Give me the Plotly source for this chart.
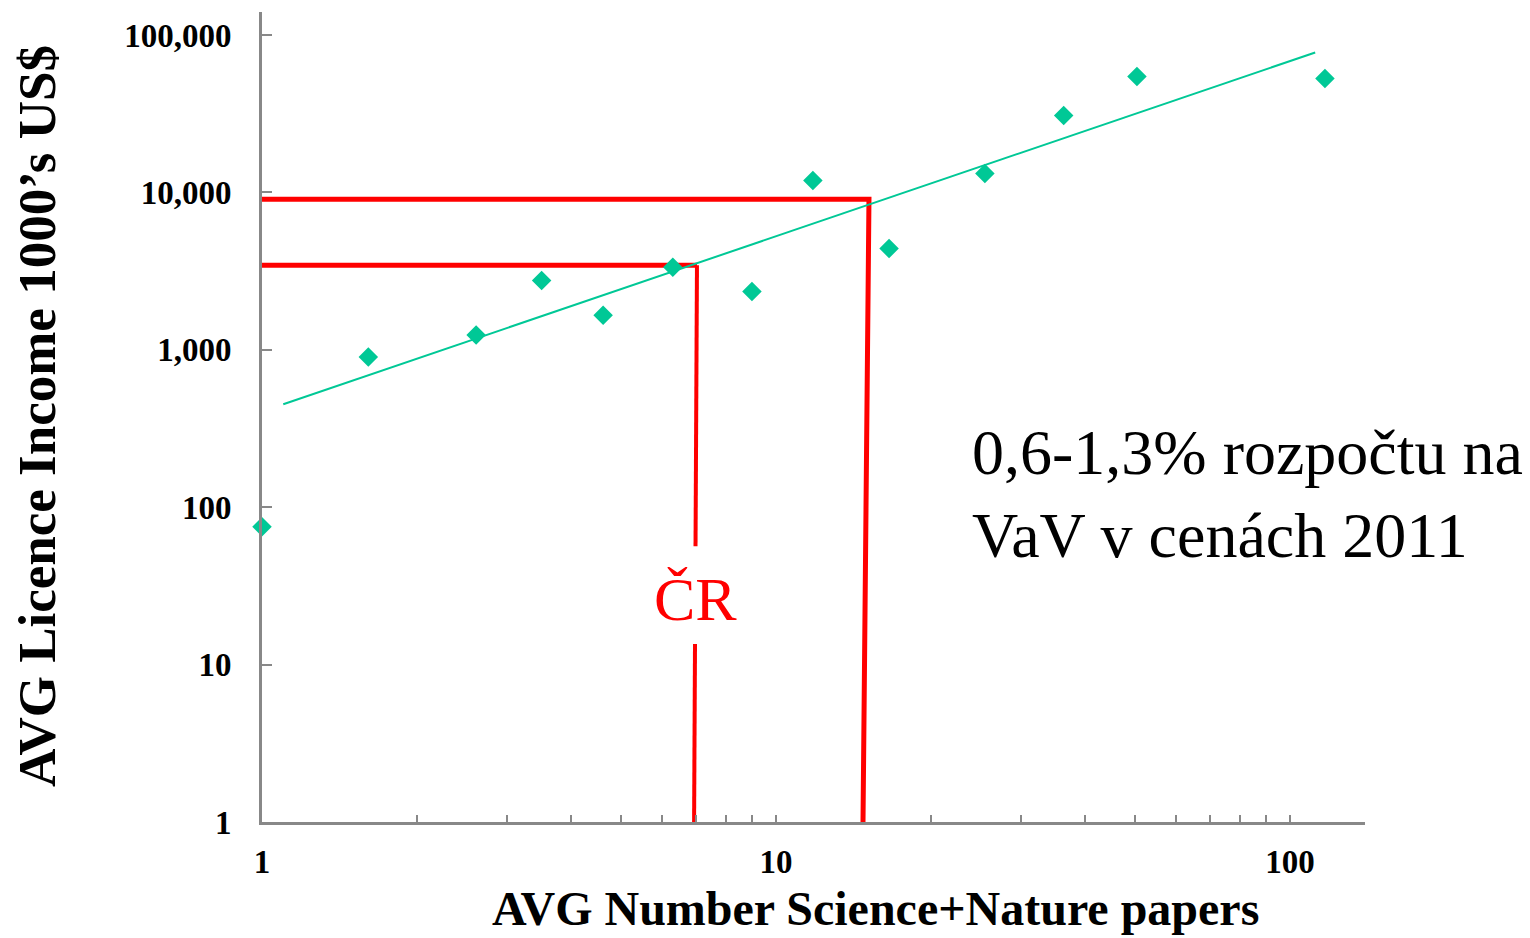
import plotly.graph_objects as go
import numpy as np

# Data
papers = [1.0, 1.61, 2.61, 3.50, 4.61, 6.30, 8.98, 11.8, 16.6, 25.5, 36.3, 50.4, 117]
income = [75, 900, 1240, 2760, 1660, 3340, 2350, 11900, 4400, 13200, 30800, 54500, 53000]

trend_x = [1.10, 112]
trend_y = [451, 77400]

# Reference (red) guide lines
upper_x = [1.0, 15.17, 14.77]
upper_y = [9030, 9030, 1]
lower_x = [1.0, 7.02, 6.93]
lower_y = [3440, 3440, 1]
lower_gap = [56.5, 13.5]   # y-values where the ČR label interrupts the line

xtick_vals = [1, 2, 3, 4, 5, 6, 7, 8, 9, 10, 20, 30, 40, 50, 60, 70, 80, 90, 100, 140]
xtick_text = ["1"] + [""] * 8 + ["10"] + [""] * 8 + ["100", ""]
ytick_vals = [1, 10, 100, 1000, 10000, 100000]
ytick_text = ["1", "10", "100", "1,000", "10,000", "100,000"]

GREEN = "#00C896"
RED = "#FF0000"
GREY = "#888888"
SERIF = "Liberation Serif, Times New Roman, serif"

fig = go.Figure()

# red guide lines
fig.add_trace(go.Scatter(x=upper_x, y=upper_y, mode="lines",
                         line=dict(color=RED, width=5), hoverinfo="skip", showlegend=False))
fig.add_trace(go.Scatter(x=lower_x[:2], y=lower_y[:2], mode="lines",
                         line=dict(color=RED, width=5), hoverinfo="skip", showlegend=False))
# vertical part of lower guide, split around the label
lx_top = lower_x[1]
lx_bot = lower_x[2]
def interp_x(yv):
    t = (np.log10(lower_y[1]) - np.log10(yv)) / (np.log10(lower_y[1]) - np.log10(lower_y[2]))
    return 10 ** (np.log10(lx_top) + t * (np.log10(lx_bot) - np.log10(lx_top)))
fig.add_trace(go.Scatter(x=[lx_top, interp_x(lower_gap[0]), None, interp_x(lower_gap[1]), lx_bot],
                         y=[lower_y[1], lower_gap[0], None, lower_gap[1], lower_y[2]],
                         mode="lines", line=dict(color=RED, width=4),
                         hoverinfo="skip", showlegend=False))

# trend line
fig.add_trace(go.Scatter(x=trend_x, y=trend_y, mode="lines",
                         line=dict(color=GREEN, width=2), showlegend=False))
# data points
fig.add_trace(go.Scatter(x=papers, y=income, mode="markers",
                         marker=dict(symbol="diamond", size=15, color=GREEN, line=dict(width=0)),
                         cliponaxis=False, showlegend=False))

fig.update_xaxes(type="log", range=[0, np.log10(140)],
                 tickvals=xtick_vals, ticktext=xtick_text,
                 ticks="inside", ticklen=7, tickwidth=1.5, tickcolor=GREY,
                 showline=True, linecolor=GREY, linewidth=3,
                 showgrid=False, zeroline=False,
                 tickfont=dict(family=SERIF, size=33, color="black", weight="bold"),
                 ticklabelstandoff=8)
fig.update_yaxes(type="log", range=[0, 5.146],
                 tickvals=ytick_vals, ticktext=ytick_text,
                 ticks="inside", ticklen=10, tickwidth=2, tickcolor=GREY,
                 showline=True, linecolor=GREY, linewidth=3,
                 showgrid=False, zeroline=False,
                 tickfont=dict(family=SERIF, size=33, color="black", weight="bold"),
                 ticklabelstandoff=21)

fig.add_annotation(text="ČR", xref="paper", yref="paper",
                   x=(695 - 262) / 1103, y=(822 - 599) / 810,
                   xanchor="center", yanchor="middle", showarrow=False,
                   font=dict(family=SERIF, size=62, color=RED))
fig.add_annotation(text="0,6-1,3% rozpočtu na<br>VaV v cenách 2011", xref="paper", yref="paper",
                   x=(970 - 262) / 1103, y=(822 - 494) / 810,
                   xanchor="left", yanchor="middle", align="left", showarrow=False,
                   font=dict(family=SERIF, size=64, color="black"))
fig.add_annotation(text="AVG Number Science+Nature papers", xref="paper", yref="paper",
                   x=(875 - 262) / 1103, y=(822 - 908) / 810,
                   xanchor="center", yanchor="middle", showarrow=False,
                   font=dict(family=SERIF, size=48, color="black", weight="bold"))
fig.add_annotation(text="AVG Licence Income 1000’s US$", xref="paper", yref="paper",
                   x=(37 - 262) / 1103, y=(822 - 416) / 810, textangle=-90,
                   xanchor="center", yanchor="middle", showarrow=False,
                   font=dict(family=SERIF, size=53, color="black", weight="bold"))

fig.update_layout(width=1530, height=938,
                  margin=dict(l=262, r=165, t=12, b=116),
                  paper_bgcolor="white", plot_bgcolor="white")

fig.write_html("out.html", config={"displayModeBar": False},
               post_script="document.body.style.margin='0';")
